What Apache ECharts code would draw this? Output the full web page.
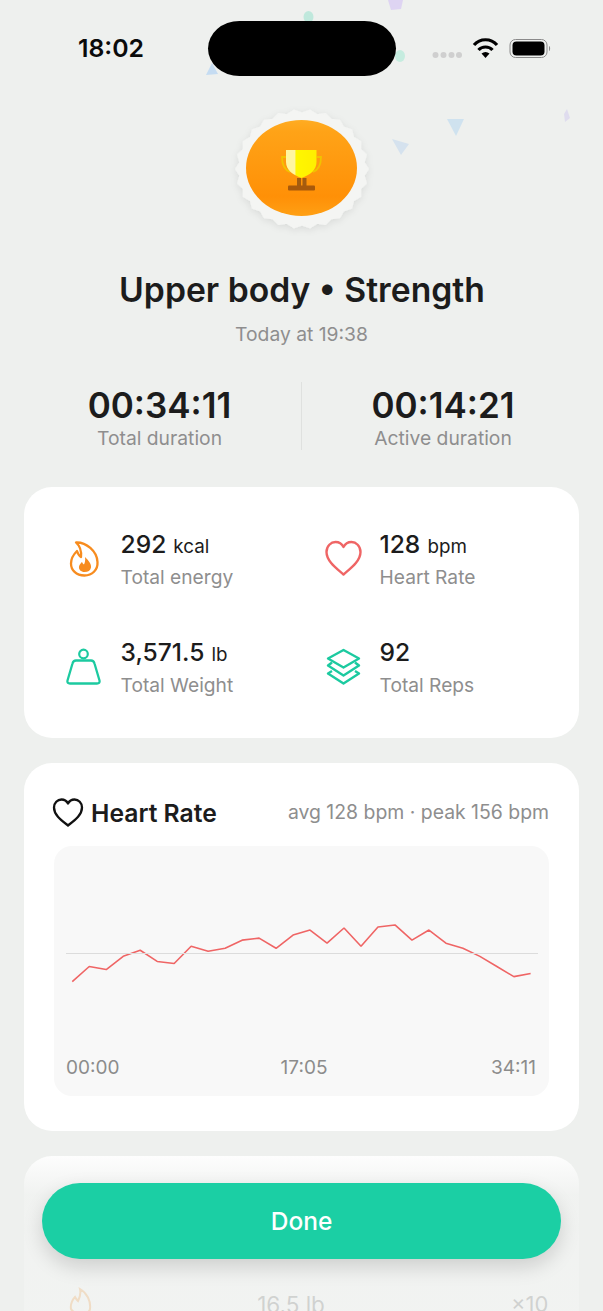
<!DOCTYPE html>
<html lang="en"><head><meta charset="utf-8"><title>Workout summary</title>
<script src="https://cdn.jsdelivr.net/npm/echarts@6/dist/echarts.min.js"></script>
<style>
html,body{margin:0;padding:0;background:#eef0ee;}
#app{position:relative;width:603px;height:1311px;overflow:hidden;background:#eef0ee;font-family:Inter,"Noto Sans",sans-serif;color:#1c1c1c;}
.a{position:absolute;}
.t{position:absolute;white-space:nowrap;transform:translateY(-50%);line-height:1.2;}
.c{transform:translate(-50%,-50%);}
.r{transform:translate(-100%,-50%);}
.g{color:#8e8e8e;}
.card{position:absolute;left:24px;width:555px;background:#fff;border-radius:28px;}
.val{font-size:24.6px;font-weight:500;}
.val small{font-size:18.8px;font-weight:400;margin-left:0.5px;}
.lab{font-size:19.2px;color:#8e8e8e;}
</style></head><body>
<div id="app">
  <!-- confetti -->
  <svg class="a" style="left:0;top:0" width="603" height="240">
    <path d="M388 0L403 0L401 9L391 10Z" fill="#dcd0f2" opacity=".9"/>
    <ellipse cx="308.500" cy="17" rx="5" ry="6" fill="#bfe8dc"/>
    <ellipse cx="400" cy="56" rx="5" ry="6" fill="#c5ecdf"/>
    <path d="M212 63L218 74L206 75Z" fill="#c5dcf2"/>
    <path d="M447 119L464 119L456 136Z" fill="#cfe2ef"/>
    <path d="M392 139L409 144L401 155Z" fill="#d5e2ee"/>
    <path d="M567 109L570 118L565 122L564 114Z" fill="#dfdcee"/>
  </svg>

  <!-- status bar -->
  <div class="t" style="left:78px;top:48.500px;font-size:24.800px;font-weight:600;color:#0b0b0b">18:02</div>
  <div class="a" style="left:207.500px;top:21px;width:188.500px;height:55px;background:#000;border-radius:32px/28px"></div>
  <svg class="a" style="left:425px;top:30px" width="135" height="36">
    <g fill="#cfcfcf"><circle cx="10.500" cy="25" r="3"/><circle cx="18.500" cy="25" r="3"/><circle cx="26.500" cy="25" r="3"/><circle cx="34" cy="25" r="3"/></g>
    <g fill="none" stroke="#000" stroke-width="3.200" stroke-linecap="butt">
      <path d="M49 15C55 8 66 8 72 15"/><path d="M53.500 20C57 16 64 16 67.500 20"/>
    </g>
    <path d="M60.500 28L56.500 23.500C59 21.500 62 21.500 64.500 23.500Z" fill="#000"/>
    <rect x="85" y="9.500" width="37" height="18" rx="5.500" fill="none" stroke="#8a8a8a" stroke-width="1"/>
    <rect x="87.500" y="11.500" width="32" height="14" rx="4" fill="#000"/>
    <path d="M124 16c1.500.5 1.500 4.500 0 5z" fill="#8a8a8a"/>
  </svg>

  <!-- badge -->
  <svg class="a" style="left:222px;top:98px" width="160" height="145" viewBox="222 98 160 145">
    <defs>
      <linearGradient id="orange" x1="0" y1="0" x2="0" y2="1"><stop offset="0" stop-color="#ffac22"/><stop offset=".12" stop-color="#ffa317"/><stop offset=".8" stop-color="#ff9007"/><stop offset="1" stop-color="#ffa014"/></linearGradient>
      <filter id="sh" x="-20%" y="-20%" width="140%" height="140%"><feDropShadow dx="0" dy="2" stdDeviation="3.500" flood-color="#000" flood-opacity=".09"/></filter>
      <linearGradient id="cup" x1="0" y1="0" x2="1" y2="0"><stop offset=".3" stop-color="#fff6a0"/><stop offset=".32" stop-color="#fff700"/><stop offset="1" stop-color="#ffef00"/></linearGradient>
    </defs>
    <polygon id="scallop" fill="#f4f5f3" stroke="#f4f5f3" stroke-width="1.500" stroke-linejoin="round" filter="url(#sh)"/>
    <ellipse cx="301.500" cy="168" rx="55.500" ry="48" fill="url(#orange)"/>
    <path d="M286 157h-4c0 8 3 13 8 15M317 157h4c0 8-3 13-8 15" fill="none" stroke="#f2c200" stroke-width="1.800"/>
    <path d="M286 150H316.500V162C316.500 170 310 175 301.500 178C293 175 286 170 286 162Z" fill="url(#cup)"/>
    <path d="M297 178h4v8h-4zM302.500 178h4v8h-4z" fill="#a35c10"/>
    <rect x="288" y="185.500" width="27" height="5" rx="1" fill="#a8590b"/>
  </svg>

  <div class="t c" style="left:302px;top:290px;font-size:33.700px;font-weight:600;">Upper body • Strength</div>
  <div class="t c g" style="left:301.500px;top:334.500px;font-size:19.300px">Today at 19:38</div>

  <div class="t c" style="left:159.500px;top:405px;font-size:35px;font-weight:600">00:34:11</div>
  <div class="t c g" style="left:159.500px;top:438.500px;font-size:19.300px">Total duration</div>
  <div class="a" style="left:301px;top:382px;width:1px;height:68px;background:#dfe1df"></div>
  <div class="t c" style="left:443px;top:405px;font-size:35px;font-weight:600">00:14:21</div>
  <div class="t c g" style="left:443px;top:438.500px;font-size:19.300px">Active duration</div>

  <!-- stats card -->
  <div class="card" style="top:487px;height:251px"></div>
  <svg class="a" style="left:60px;top:535px" width="50" height="50">
    <path d="M16 7.500C26 7 37 16 37.500 27C38 35 32 40.500 24.500 40.500C16 40.500 11 35 11 28.500C11 23 14 19 17 16C18 19 19 21 21 22C21.500 17 20 11 16 7.500Z" fill="none" stroke="#f78c1f" stroke-width="2.300" stroke-linejoin="round"/>
    <path d="M25 22C29 26 31.500 29 31 32.500C30.500 35.500 28 37 24.500 37C21 37 18.500 34.500 19 31.500C19.500 29.500 21 28 22 27C22.500 28 23 29 24 29.500C25 28 25.500 25 25 22Z" fill="#f78c1f"/>
  </svg>
  <svg class="a" style="left:320px;top:535px" width="50" height="50">
    <path d="M23.500 39.500C16 33 6.500 26 6.500 17C6.500 11 11 7 15.500 7C19 7 22 9 23.500 12C25 9 28 7 31.500 7C36 7 40.500 11 40.500 17C40.500 26 31 33 23.500 39.500Z" fill="none" stroke="#ef6565" stroke-width="2.400" stroke-linejoin="round"/>
  </svg>
  <svg class="a" style="left:60px;top:643px" width="50" height="50">
    <circle cx="23.500" cy="11" r="4.300" fill="none" stroke="#1ccaa0" stroke-width="2.200"/>
    <path d="M16 17.500H31C33 17.500 34 18.500 34.500 20.500L39.500 37.500C40 39.500 39 40.500 37 40.500H10C8 40.500 7 39.500 7.500 37.500L12.500 20.500C13 18.500 14 17.500 16 17.500Z" fill="none" stroke="#1ccaa0" stroke-width="2.300" stroke-linejoin="round"/>
  </svg>
  <svg class="a" style="left:320px;top:643px" width="50" height="50">
    <g fill="none" stroke="#1ccaa0" stroke-width="2.400" stroke-linejoin="round">
      <path d="M23.500 7L39 15.500L23.500 24.500L8 15.500Z"/>
      <path d="M12 19.500L8 22.500L23.500 32.500L39 22.500L35 19.500"/>
      <path d="M12 28L8 30.500L23.500 40.500L39 30.500L35 28"/>
    </g>
  </svg>
  <div class="t val" style="left:120.500px;top:544.500px">292 <small>kcal</small></div>
  <div class="t lab" style="left:120.500px;top:577.500px">Total energy</div>
  <div class="t val" style="left:379.500px;top:544.500px">128 <small>bpm</small></div>
  <div class="t lab" style="left:379.500px;top:577.500px">Heart Rate</div>
  <div class="t val" style="left:120.500px;top:652.500px">3,571.5 <small>lb</small></div>
  <div class="t lab" style="left:120.500px;top:685.500px">Total Weight</div>
  <div class="t val" style="left:379.500px;top:652.500px">92</div>
  <div class="t lab" style="left:379.500px;top:685.500px">Total Reps</div>

  <!-- heart rate card -->
  <div class="card" style="top:763px;height:368px"></div>
  <svg class="a" style="left:50px;top:796px" width="36" height="34">
    <path d="M18 29.500C11 24 4 19 4 11.500C4 7 7.500 3.500 11.500 3.500C14.300 3.500 16.700 5 18 7.500C19.300 5 21.700 3.500 24.500 3.500C28.500 3.500 32 7 32 11.500C32 19 25 24 18 29.500Z" fill="none" stroke="#111" stroke-width="2.300" stroke-linejoin="round"/>
  </svg>
  <div class="t" style="left:91px;top:813.500px;font-size:24.700px;font-weight:600">Heart Rate</div>
  <div class="t r g" style="left:549px;top:813px;font-size:19.400px">avg 128 bpm · peak 156 bpm</div>
  <div id="chart" class="a" style="left:54px;top:846px;width:495px;height:250px;background:#f8f8f8;border-radius:18px;overflow:hidden"></div>

  <!-- exercise card behind the button, fading out -->
  <div class="card" style="top:1156px;height:200px"></div>
  <svg class="a" style="left:60px;top:1285px" width="40" height="30">
    <path d="M20 4C27 8 31 16 30 24C29 30 14 30 11 24C10 19 13 14 15 12C16 14 17 15 18 16C20 12 21 8 20 4Z" fill="none" stroke="#f78c1f" stroke-width="2"/>
  </svg>
  <div class="t c" style="left:291px;top:1304px;font-size:22.500px;color:#555">16.5 lb</div>
  <div class="t" style="left:511px;top:1304px;font-size:22px;color:#555">×10</div>
  <div class="a" style="left:0;top:1150px;width:603px;height:161px;background:linear-gradient(to bottom,rgba(238,240,238,0) 0,rgba(238,240,238,.85) 45px,rgba(238,240,238,.8) 100%)"></div>
  <div class="a" style="left:42px;top:1183px;width:519px;height:76px;background:#1bcfa4;border-radius:38px/38px;box-shadow:0 8px 20px rgba(0,0,0,.15)"></div>
  <div class="t c" style="left:301.500px;top:1222px;font-size:24.500px;font-weight:500;color:#fff">Done</div>
</div>

<script>
// Heart-rate samples
var sampleSeconds = [0,76,152,228,304,380,456,532,608,684,760,836,912,988,1064,1140,1216,1292,1368,1444,1520,1596,1672,1748,1824,1900,1976,2051];
var heartRate = [100,115,112,125,131,120,118,135,130,133,141,143,133,146,151,138,153,135,154,156,141,151,138,133,125,115,105,108];
var averageBpm = [128];
var timeTicks = ['00:00','17:05','34:11'];

// decorative scalloped edge of the trophy badge
(function(){
  var pts=[],n=52,i;
  for(i=0;i<n;i++){
    var a=i/n*Math.PI*2, k=i%2?0.945:1;
    pts.push((302+66*k*Math.cos(a)).toFixed(1)+','+(169+59*k*Math.sin(a)).toFixed(1));
  }
  document.getElementById('scallop').setAttribute('points',pts.join(' '));
})();

var chart = echarts.init(document.getElementById('chart'), null, {renderer:'svg'});
chart.setOption({
  animation:false,
  backgroundColor:'transparent',
  grid:{left:12,width:472,top:34.4,bottom:73.8},
  xAxis:[
    {type:'value',min:-28,max:2084,show:false},
    {type:'category',data:timeTicks,boundaryGap:false,position:'bottom',
     axisLine:{show:false},axisTick:{show:false},splitLine:{show:false},
     axisLabel:{interval:0,margin:36,fontFamily:'Inter',fontSize:19,color:'#8c8c8c',alignMinLabel:'left',alignMaxLabel:'right',hideOverlap:false,
       formatter:function(v,i){return i===1?'{m|'+v+'}':i===2?'{e|'+v+'}':v;},
       rich:{m:{fontFamily:'Inter',fontSize:19,color:'#8c8c8c',padding:[0,0,0,4]},
             e:{fontFamily:'Inter',fontSize:19,color:'#8c8c8c',padding:[0,2,0,0]}}}}
  ],
  yAxis:{type:'value',min:60,max:200,show:false},
  series:[{
    type:'line',xAxisIndex:0,symbol:'none',smooth:false,
    data:sampleSeconds.map(function(s,i){return [s,heartRate[i]];}),
    lineStyle:{color:'#ef6565',width:1.6},
    markLine:{silent:true,symbol:'none',label:{show:false},
      lineStyle:{color:'#dcdcdc',width:1,type:'solid'},
      data:[{yAxis:averageBpm[0]}]}
  }]
});
</script>
</body></html>
